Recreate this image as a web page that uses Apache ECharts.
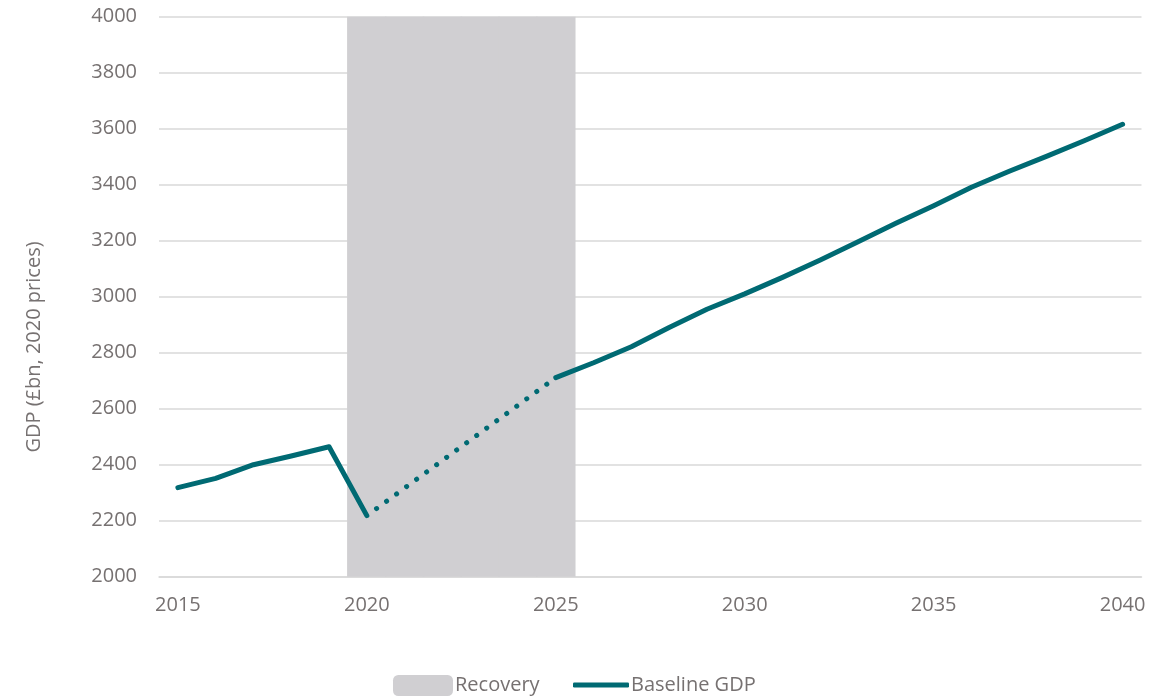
<!DOCTYPE html>
<html>
<head>
<meta charset="utf-8">
<title>Baseline GDP</title>
<script src="https://cdn.jsdelivr.net/npm/echarts@6/dist/echarts.min.js"></script>
<style>
  html, body { margin: 0; padding: 0; background: #ffffff; }
  #chart { width: 1171px; height: 699px; }
</style>
</head>
<body>
<div id="chart"></div>
<script>
// Years on the category axis
const years = ['2015','2016','2017','2018','2019','2020','2021','2022','2023','2024','2025',
  '2026','2027','2028','2029','2030','2031','2032','2033','2034','2035','2036','2037','2038','2039','2040'];

// Shaded recovery period (2020 to 2025), drawn as full-height columns
const recovery = [null, null, null, null, null, 4000, 4000, 4000, 4000, 4000, 4000,
  null, null, null, null, null, null, null, null, null, null, null, null, null, null, null];

// Baseline GDP, £bn in 2020 prices: outturn to 2020 and projection from 2025
const baselineGdp = [2318, 2351, 2400, 2431, 2464, 2218, null, null, null, null, 2711,
  2764, 2821, 2890, 2955, 3010, 3069, 3131, 3196, 3262, 3325, 3391, 3448, 3502, 3558, 3616];

// Recovery path between the 2020 trough and 2025 (dotted)
const recoveryPath = [null, null, null, null, null, 2218, null, null, null, null, 2711,
  null, null, null, null, null, null, null, null, null, null, null, null, null, null, null];

const yTicks = { min: 2000, max: 4000, step: 200 };

const FONT = '"Open Sans", "Liberation Sans", sans-serif';
const TEXT = '#767171';
const TEAL = '#006a73';
const GREY = '#d0cfd2';
const GRID = '#d9d9d9';

const legendText = { color: TEXT, fontSize: 20, fontFamily: FONT, padding: [0, 0, 0, -3] };

const chart = echarts.init(document.getElementById('chart'), null, { renderer: 'canvas' });

chart.setOption({
  animation: false,
  backgroundColor: '#ffffff',
  textStyle: { fontFamily: FONT },
  grid: { left: 159, right: 29.5, top: 16.7, bottom: 122.3, containLabel: false },
  legend: [
    {
      left: 393,
      top: 675,
      padding: 0,
      itemWidth: 60,
      itemHeight: 21,
      textStyle: legendText,
      data: [{ name: 'Recovery', icon: 'roundRect' }]
    },
    {
      left: 573,
      top: 675,
      padding: 0,
      itemWidth: 56,
      itemHeight: 5,
      textStyle: legendText,
      data: [{ name: 'Baseline GDP', icon: 'roundRect' }]
    }
  ],
  xAxis: {
    type: 'category',
    data: years,
    boundaryGap: true,
    axisLine: { show: true, lineStyle: { color: GRID, width: 1.5 } },
    axisTick: { show: false },
    axisLabel: { interval: 4, color: TEXT, fontSize: 20, fontFamily: FONT, margin: 19 },
    splitLine: { show: false }
  },
  yAxis: {
    type: 'value',
    min: yTicks.min,
    max: yTicks.max,
    interval: yTicks.step,
    axisLine: { show: false },
    axisTick: { show: false },
    axisLabel: {
      color: TEXT, fontSize: 20, fontFamily: FONT, margin: 22,
      formatter: function (v) { return String(v); }
    },
    splitLine: { show: true, lineStyle: { color: GRID, width: 1.5 } }
  },
  graphic: [{
    type: 'text',
    x: 34,
    y: 347,
    rotation: Math.PI / 2,
    style: {
      text: 'GDP (£bn, 2020 prices)',
      fill: TEXT,
      font: '20px ' + FONT,
      textAlign: 'center',
      textVerticalAlign: 'middle'
    }
  }],
  series: [
    {
      name: 'Recovery',
      type: 'bar',
      data: recovery,
      // slightly wider than a category so neighbouring columns merge into one band
      barWidth: 39.5,
      itemStyle: { color: GREY },
      z: 1,
      silent: true
    },
    {
      name: 'Baseline GDP',
      type: 'line',
      data: baselineGdp,
      symbol: 'none',
      connectNulls: false,
      lineStyle: { color: TEAL, width: 5, cap: 'round', join: 'round' },
      itemStyle: { color: TEAL },
      z: 3
    },
    {
      name: 'Recovery path',
      type: 'line',
      data: recoveryPath,
      symbol: 'none',
      connectNulls: true,
      lineStyle: { color: TEAL, width: 5, type: [0.1, 12.3], cap: 'round', dashOffset: -12 },
      z: 3
    }
  ]
});
</script>
</body>
</html>
